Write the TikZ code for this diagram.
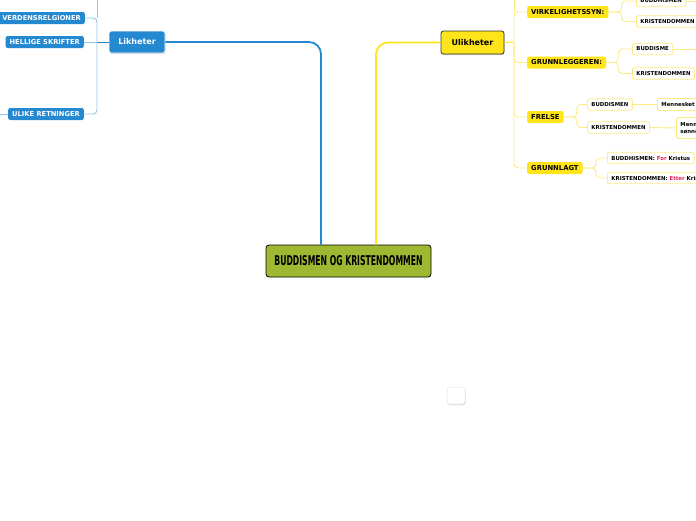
\documentclass[tikz,border=0pt]{standalone}
\usepackage{fontspec}
\setmainfont{DejaVu Sans}
\usetikzlibrary{shadows}
\definecolor{cblue}{HTML}{2489D0}
\definecolor{lblue}{HTML}{8CC4EA}
\definecolor{cyell}{HTML}{FFE41A}
\definecolor{lyell}{HTML}{FFEB85}
\definecolor{cgreen}{HTML}{9FB832}
\definecolor{cred}{HTML}{E0245E}
\tikzset{
  main/.style={draw=black, line width=0.8pt, rounded corners=3pt, fill=cgreen, minimum width=165pt, minimum height=32pt, inner sep=0pt},
  bluetop/.style={fill=cblue, draw=white, line width=0.6pt, rounded corners=2.5pt, text=white, font=\bfseries\fontsize{8}{9}\selectfont, minimum width=56pt, minimum height=22pt, inner sep=0pt, drop shadow={shadow xshift=0.6pt, shadow yshift=-1.2pt, opacity=0.35}},
  bluesub/.style={fill=cblue, rounded corners=2pt, text=white, font=\bfseries\fontsize{6.7}{8}\selectfont, minimum height=12pt, inner xsep=4pt, inner ysep=0pt},
  yelltop/.style={fill=cyell, draw=black!80, line width=0.8pt, rounded corners=2.5pt, font=\bfseries\fontsize{8}{9}\selectfont, minimum width=63pt, minimum height=23pt, inner sep=0pt, drop shadow={shadow xshift=0.6pt, shadow yshift=-1.2pt, opacity=0.35}},
  yellsub/.style={fill=cyell, rounded corners=2pt, font=\bfseries\fontsize{6.8}{8}\selectfont, minimum height=12pt, inner xsep=4pt, inner ysep=0pt, anchor=west},
  leaf/.style={fill=white, draw=lyell, line width=0.8pt, rounded corners=2pt, font=\bfseries\fontsize{5.4}{6.5}\selectfont, minimum height=11.5pt, inner xsep=4pt, inner ysep=0pt, anchor=west},
  bmain/.style={cblue, line width=1.8pt, rounded corners=12pt},
  ymain/.style={cyell, line width=1.8pt, rounded corners=12pt},
  bline/.style={lblue, line width=0.9pt, rounded corners=4pt},
  yline/.style={lyell, line width=0.9pt, rounded corners=4pt},
}
\begin{document}
\begin{tikzpicture}[x=1pt,y=-1pt]
\useasboundingbox (0,0) rectangle (696,520);
\clip (0,0) rectangle (696,520);
% central
\node[main] (c) at (348.5,261) {\scalebox{0.57}[1]{\bfseries\fontsize{13.5}{14}\selectfont BUDDISMEN OG KRISTENDOMMEN}};
% Likheter
\node[bluetop] (lik) at (137,42) {Likheter};
\node[bluesub, anchor=east] (verd) at (85,18) {VERDENSRELGIONER};
\node[bluesub, anchor=east] (hell) at (84,42) {HELLIGE SKRIFTER};
\node[bluesub, anchor=east] (uret) at (84,114) {ULIKE RETNINGER};
\coordinate (ltop) at (97,-10);
\coordinate (lj) at (97,42);
\coordinate (uretl) at (-10,114);
% Ulikheter
\node[yelltop] (ulik) at (472.5,42.5) {Ulikheter};
\coordinate (rj) at (514,42);
\coordinate (rtop) at (514,-10);
\node[yellsub] (virk) at (527,12) {VIRKELIGHETSSYN:};
\node[yellsub] (grl) at (527,62.5) {GRUNNLEGGEREN:};
\node[yellsub] (fre) at (527,117) {FRELSE};
\node[yellsub] (gla) at (527,168) {GRUNNLAGT};
% leaves
\node[leaf] (v1) at (636,1) {BUDDHISMEN};
\node[leaf] (v2) at (636,21.5) {KRISTENDOMMEN};
\coordinate (v1r) at (710,1);
\node[leaf] (g1) at (632,49) {BUDDISME};
\node[leaf] (g2) at (632,73.5) {KRISTENDOMMEN};
\coordinate (g1r) at (710,49);
\node[leaf] (f1) at (587,104.5) {BUDDISMEN};
\node[leaf] (f2) at (587,127.5) {KRISTENDOMMEN};
\node[leaf, minimum height=12pt] (f1m) at (657,104.5) {Mennesket};
\node[leaf, minimum height=21pt, align=left, font=\bfseries\fontsize{5.4}{6.5}\selectfont] (f2m) at (676,128) {Menn\\sønne};
\node[leaf] (k1) at (607,158) {BUDDHISMEN: \textcolor{cred}{For} Kristus};
\node[leaf] (k2) at (607,178) {KRISTENDOMMEN: \textcolor{cred}{Etter} Kristus};
% empty box
\node[fill=white, draw=black!12, line width=0.5pt, rounded corners=2.5pt, minimum width=18pt, minimum height=17pt, drop shadow={shadow xshift=0.5pt, shadow yshift=-1pt, opacity=0.3}] (e) at (456,395.5) {};
% main connectors
\draw[bmain] ([xshift=-27.5pt]c.north) |- (lik.east);
\draw[ymain] ([xshift=27.5pt]c.north) |- (ulik.west);
% left branches
\draw[cblue, line width=0.9pt] (lik.west) -- (lj);
\draw[bline] (lj) -- (hell.east);
\draw[bline] (lj) |- (uret.east);
\draw[bline] (lj) |- (verd.east);
\draw[bline] (verd.east -| lj) -- (ltop);
\draw[bline] (uret.west) -- (uretl);
% right branches
\draw[cyell, line width=0.9pt] (ulik.east) -- (rj);
\draw[yline] (rj) |- (gla.west);
\draw[yline] (rj) |- (grl.west);
\draw[yline] (rj) |- (fre.west);
\draw[yline] (rj) |- (virk.west);
\draw[yline] (virk.west -| rj) -- (rtop);
% leaf connectors
\draw[yline] (virk.east) -- ++(13,0) |- (v1.west);
\draw[yline] (virk.east) -- ++(13,0) |- (v2.west);
\draw[yline] (v1.east) -- (v1r);
\draw[yline] (grl.east) -- ++(12,0) |- (g1.west);
\draw[yline] (grl.east) -- ++(12,0) |- (g2.west);
\draw[yline] (g1.east) -- (g1r);
\draw[yline] (fre.east) -- ++(13,0) |- (f1.west);
\draw[yline] (fre.east) -- ++(13,0) |- (f2.west);
\draw[yline] (f1.east) -- (f1m.west);
\draw[yline] (f2.east) -- (f2m.west);
\draw[yline] (gla.east) -- ++(13,0) |- (k1.west);
\draw[yline] (gla.east) -- ++(13,0) |- (k2.west);
\end{tikzpicture}
\end{document}
